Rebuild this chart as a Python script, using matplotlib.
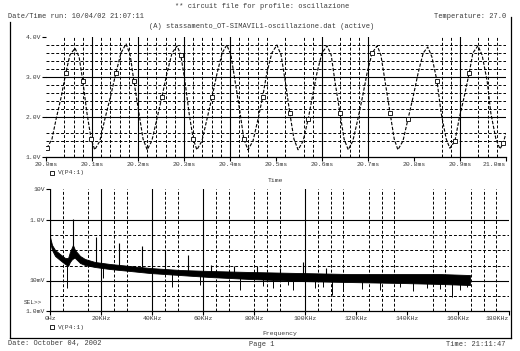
import matplotlib
matplotlib.use("Agg")
import matplotlib.pyplot as plt
from matplotlib.lines import Line2D

# ---------------------------------------------------------------
# Dati (PSpice Probe, profilo "oscillazione")
# ---------------------------------------------------------------

# Forma d'onda V(P4:1): tempo in ms, tensione in V
t_ms = [20.002, 20.013, 20.022, 20.033, 20.043, 20.052, 20.063, 20.072, 20.080, 20.089,
        20.098, 20.106, 20.117, 20.128, 20.140, 20.152, 20.163, 20.174, 20.183, 20.191,
        20.202, 20.211, 20.220, 20.230, 20.241, 20.252, 20.263, 20.274, 20.285, 20.293,
        20.302, 20.311, 20.320, 20.328, 20.339, 20.350, 20.361, 20.372, 20.383, 20.393,
        20.402, 20.411, 20.422, 20.430, 20.439, 20.450, 20.461, 20.471, 20.480, 20.491,
        20.502, 20.511, 20.520, 20.530, 20.539, 20.548, 20.559, 20.570, 20.579, 20.589,
        20.600, 20.611, 20.620, 20.628, 20.639, 20.648, 20.657, 20.667, 20.678, 20.688,
        20.698, 20.709, 20.720, 20.728, 20.737, 20.748, 20.757, 20.765, 20.776, 20.787,
        20.798, 20.809, 20.820, 20.830, 20.839, 20.850, 20.859, 20.870, 20.878, 20.889,
        20.898, 20.909, 20.920, 20.928, 20.939, 20.948, 20.959, 20.967, 20.978, 20.987,
        20.994, 21.000]
v_volt = [1.22, 1.45, 1.95, 2.50, 3.10, 3.55, 3.72, 3.50, 2.90, 2.10,
          1.45, 1.18, 1.40, 1.95, 2.50, 3.10, 3.60, 3.83, 3.55, 2.90,
          2.10, 1.45, 1.18, 1.40, 1.95, 2.50, 3.10, 3.60, 3.78, 3.55,
          2.90, 2.10, 1.45, 1.18, 1.40, 1.95, 2.50, 3.10, 3.60, 3.80,
          3.55, 2.90, 2.10, 1.45, 1.18, 1.40, 1.95, 2.50, 3.10, 3.60,
          3.80, 3.55, 2.90, 2.10, 1.45, 1.18, 1.40, 1.95, 2.50, 3.10,
          3.60, 3.78, 3.55, 2.90, 2.10, 1.45, 1.18, 1.40, 1.95, 2.50,
          3.10, 3.60, 3.78, 3.55, 2.90, 2.10, 1.45, 1.18, 1.40, 1.95,
          2.50, 3.10, 3.60, 3.75, 3.50, 2.90, 2.10, 1.45, 1.22, 1.40,
          1.95, 2.50, 3.10, 3.60, 3.78, 3.55, 2.90, 2.10, 1.45, 1.20,
          1.35, 1.60]
marker_idx = [0, 4, 8, 10, 15, 19, 25, 29, 32, 36, 43, 47, 53, 57, 64, 71, 75, 79, 85, 89, 92, 100]

t_ticks = [20.0, 20.1, 20.2, 20.3, 20.4, 20.5, 20.6, 20.7, 20.8, 20.9, 21.0]
t_labels = ["20.0ms", "20.1ms", "20.2ms", "20.3ms", "20.4ms", "20.5ms",
            "20.6ms", "20.7ms", "20.8ms", "20.9ms", "21.0ms"]
v_ticks = [1.0, 2.0, 3.0, 4.0]
v_labels = ["1.0V", "2.0V", "3.0V", "4.0V"]

# griglia visibile nel grafico superiore
t_grid_major = [20.1, 20.2, 20.3, 20.4, 20.6, 20.7, 20.9]
t_grid_minor = [20.04, 20.06, 20.08, 20.12, 20.14, 20.16, 20.18, 20.22, 20.24, 20.26,
                20.28, 20.32, 20.34, 20.36, 20.38, 20.42, 20.44, 20.46, 20.48, 20.52,
                20.56, 20.58, 20.64, 20.66, 20.68, 20.86, 20.88, 20.94, 20.96, 20.98]
v_grid_major = [2.0, 3.0]
v_grid_minor = [1.4, 1.6, 2.2, 2.4, 2.6, 2.8, 3.2, 3.4, 3.6, 3.8]

# Spettro (FFT): inviluppo superiore e inferiore della banda, frequenza in kHz
spec_khz = [0, 0.8, 2, 3.9, 5.9, 7.1, 7.8, 9.0, 9.8, 11.8, 13.7, 17.6, 23.5,
            31.4, 39.2, 51, 62.7, 78.4, 98, 117.6, 137.3, 152.9, 164.7]
spec_hi = [0.267, 0.146, 0.100, 0.074, 0.0547, 0.0547, 0.086, 0.146, 0.100, 0.0636,
           0.0507, 0.0405, 0.0348, 0.0299, 0.0257, 0.0221, 0.0205, 0.0190, 0.0176,
           0.0163, 0.0163, 0.0163, 0.0151]
spec_lo = [0.183, 0.100, 0.0636, 0.0470, 0.0348, 0.0299, 0.0405, 0.0547, 0.0547,
           0.0375, 0.0322, 0.0277, 0.0238, 0.0205, 0.0176, 0.0151, 0.0130, 0.0112,
           0.0096, 0.0089, 0.0083, 0.0077, 0.0071]

# armoniche (picchi verso l'alto) e buchi (picchi verso il basso)
up_khz = [9.0, 18.0, 27.1, 36.1, 45.1, 54.1, 63.1, 72.2, 81.2, 90.2, 99.2, 108.2]
up_top = [1.04, 0.267, 0.170, 0.135, 0.100, 0.0686, 0.032, 0.030, 0.030, 0.0257, 0.0405, 0.0257]
up_base = [0.05, 0.03, 0.025, 0.022, 0.019, 0.017, 0.015, 0.014, 0.013, 0.012, 0.011, 0.011]
dn_khz = [6.7, 20.8, 47.8, 58.8, 74.5, 83.5, 87.5, 93.3, 95.3, 100.0, 103.9, 107.1,
          110.6, 114.9, 122.4, 129.4, 137.3, 142.4, 147.8, 152.9, 157.6, 160.8, 163.5]
dn_bot = [0.0057, 0.0121, 0.0061, 0.0071, 0.0049, 0.0066, 0.0057, 0.0071, 0.0049, 0.0033,
          0.0057, 0.0061, 0.0033, 0.0049, 0.0053, 0.0049, 0.0061, 0.0045, 0.0057, 0.0053,
          0.0029, 0.0049, 0.0061]
dn_base = [0.04, 0.03, 0.02, 0.02, 0.018, 0.015, 0.015, 0.015, 0.015, 0.015,
           0.014, 0.014, 0.014, 0.014, 0.013, 0.013, 0.013, 0.013, 0.013, 0.013,
           0.013, 0.013, 0.013]

f_ticks = [0, 20, 40, 60, 80, 100, 120, 140, 160, 180]
f_labels = ["0Hz", "20KHz", "40KHz", "60KHz", "80KHz", "100KHz",
            "120KHz", "140KHz", "160KHz", "180KHz"]
m_ticks = [1e-3, 1e-2, 1.0, 10.0]
m_labels = ["1.0mV", "10mV", "1.0V", "10V"]

f_grid_major = [20, 40, 60, 100]
f_grid_minor = [5, 15, 25, 30, 45, 50, 65, 70, 80, 85, 90, 105, 110, 115,
                125, 130, 135, 150, 155, 165, 170, 175]
m_grid_major = [0.01, 1.0]
m_grid_minor = [0.003, 0.03, 0.1, 0.3]

# ---------------------------------------------------------------
W, H = 520, 351
FONT = "Liberation Mono"
TXT = "#3a3a3a"
DASH = (0, (3, 2))


def px(x, y):
    """Coordinate in pixel (origine in alto a sinistra) -> frazione di figura."""
    return x / W, 1 - y / H


def grid_lines(ax, xs_major, xs_minor, ys_major, ys_minor):
    for x in xs_major:
        ax.axvline(x, color="black", lw=0.8, zorder=1)
    for x in xs_minor:
        ax.axvline(x, color="black", lw=0.7, ls=DASH, zorder=1)
    for y in ys_major:
        ax.axhline(y, color="black", lw=0.8, zorder=1)
    for y in ys_minor:
        ax.axhline(y, color="black", lw=0.7, ls=DASH, zorder=1)


def style_axes(ax):
    for side in ["top", "right", "left"]:
        ax.spines[side].set_visible(False)
    ax.spines["bottom"].set_linewidth(0.9)
    ax.tick_params(axis="both", which="major", direction="out", length=3,
                   width=0.8, color="black", labelsize=4.6, labelcolor=TXT, pad=0.8)
    ax.tick_params(axis="both", which="minor", length=0)
    for lab in ax.get_xticklabels() + ax.get_yticklabels():
        lab.set_fontfamily(FONT)


fig = plt.figure(figsize=(W / 100, H / 100), dpi=100)

# ---------------- grafico superiore: V(P4:1) nel tempo ----------------
ax1 = fig.add_axes([46 / W, 1 - 157 / H, 460 / W, 120 / H])
ax1.set_xlim(20.0, 21.0)
ax1.set_ylim(1.0, 4.0)
grid_lines(ax1, t_grid_major, t_grid_minor, v_grid_major, v_grid_minor)
ax1.plot(t_ms, v_volt, color="black", lw=0.8, ls=(0, (3, 1.5)), zorder=3,
         marker="s", markevery=marker_idx, markersize=2.6,
         markerfacecolor="white", markeredgecolor="black", markeredgewidth=0.6)
ax1.set_xticks(t_ticks, t_labels)
ax1.set_yticks(v_ticks, v_labels)
style_axes(ax1)
ax1.get_xticklabels()[-1].set_ha("right")

# ---------------- grafico inferiore: spettro ----------------
ax2 = fig.add_axes([50 / W, 1 - 311 / H, 459 / W, 122 / H])
ax2.set_yscale("log")
ax2.set_xlim(0, 180)
ax2.set_ylim(1e-3, 10)
grid_lines(ax2, f_grid_major, f_grid_minor, m_grid_major, m_grid_minor)
ax2.axvline(0, color="black", lw=0.9, zorder=1)
ax2.fill_between(spec_khz, spec_lo, spec_hi, color="black", lw=0.6,
                 edgecolor="black", zorder=3)
ax2.vlines(up_khz, up_base, up_top, color="black", lw=0.8, zorder=3)
ax2.vlines(dn_khz, dn_bot, dn_base, color="black", lw=0.7, zorder=3)
ax2.set_xticks(f_ticks, f_labels)
ax2.set_yticks(m_ticks, m_labels)
style_axes(ax2)
ax2.get_xticklabels()[-1].set_ha("right")

# ---------------- testi e cornice ----------------
def label(x, y, s, ha="left", size=5.0):
    fig.text(*px(x, y), s, ha=ha, va="center", fontsize=size,
             family=FONT, color=TXT)


label(262, 7, "** circuit file for profile: oscillazione", ha="center")
label(8, 16, "Date/Time run: 10/04/02 21:07:11")
label(506, 16, "Temperature: 27.0", ha="right")
label(262, 26, "(A) stassamento_OT-SIMAVIL1-oscillazione.dat (active)", ha="center")
label(58, 173, "V(P4:1)", size=4.6)
label(275, 181, "Time", ha="center", size=4.6)
label(58, 327, "V(P4:1)", size=4.6)
label(280, 334, "Frequency", ha="center", size=4.6)
label(24, 302, "SEL>>", size=4.4)
label(8, 344, "Date: October 04, 2002")
label(262, 344, "Page 1", ha="center")
label(506, 344, "Time: 21:11:47", ha="right")

for (mx, my) in [(52, 173), (52, 327)]:
    fig.add_artist(Line2D([mx / W], [1 - my / H], marker="s", markersize=2.6,
                          markerfacecolor="white", markeredgecolor="black",
                          markeredgewidth=0.6, transform=fig.transFigure))

# cornice esterna (sinistra, destra, basso)
frame = [((10, 22), (10, 338)), ((511, 17), (511, 338)), ((10, 338), (511, 338))]
for (a, b) in frame:
    xa, ya = px(*a)
    xb, yb = px(*b)
    fig.add_artist(Line2D([xa, xb], [ya, yb], color="black", lw=0.9,
                          transform=fig.transFigure))

fig.savefig("out.png", dpi=100)
